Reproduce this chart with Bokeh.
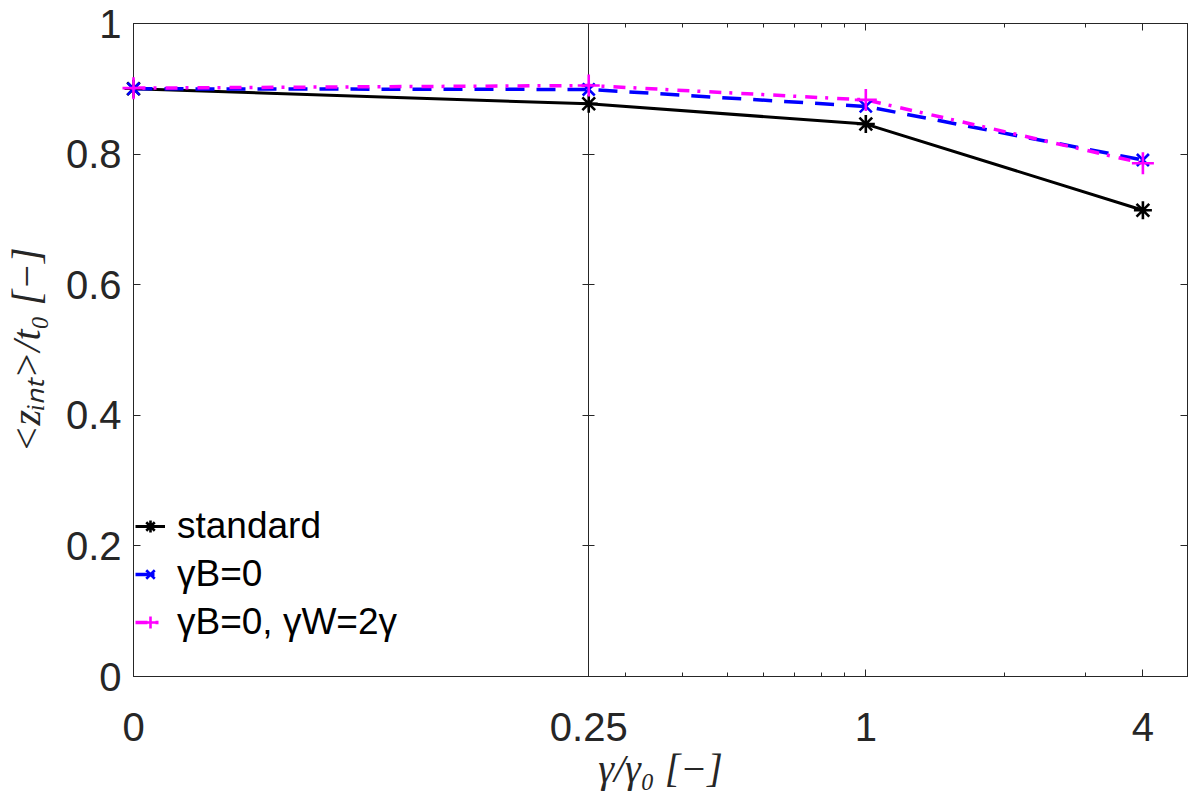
import math
from bokeh.plotting import figure
from bokeh.models import (ColumnDataSource, Range1d, FixedTicker, LinearAxis, Legend, LegendItem,
                          CustomJSTransform, CustomJSTickFormatter)
from bokeh.transform import transform
from bokeh.embed import file_html
from bokeh.resources import INLINE

# ---------------- data ----------------
x_values = [0, 0.25, 1, 4]
standard = [0.900, 0.877, 0.846, 0.714]
gamma_b0 = [0.900, 0.899, 0.873, 0.791]
gamma_b0_w2 = [0.901, 0.905, 0.883, 0.786]
series_labels = ["standard", "γB=0", "γB=0, γW=2γ"]

x_tick_values = [0, 0.25, 1, 4]
x_tick_labels = ["0", "0.25", "1", "4"]
x_minor_values = [0.3, 0.4, 0.5, 0.6, 0.7, 0.8, 0.9, 2, 3]
y_tick_values = [0, 0.2, 0.4, 0.6, 0.8, 1]
y_tick_labels = ["0", "0.2", "0.4", "0.6", "0.8", "1"]

x_label = "γ/γ₀ [−]"
y_label = "<zᵢₙₜ>/t₀ [−]"

# ---------------- axis mapping: linear [0, 0.25], log [0.25, 5] ----------------
X_BREAK = 0.25
X_MAX = 5.0
LIN_W = 455.0     # axis units for the linear part
DEC_W = 460.0     # axis units per decade in the log part


def xpos(v):
    return v / X_BREAK * LIN_W if v <= X_BREAK else LIN_W + DEC_W * math.log10(v / X_BREAK)


xt = CustomJSTransform(args=dict(brk=X_BREAK, lin=LIN_W, dec=DEC_W), v_func="""
const out = new Float64Array(xs.length);
for (let i = 0; i < xs.length; i++) {
  const v = xs[i];
  out[i] = v <= brk ? v / brk * lin : lin + dec * Math.log10(v / brk);
}
return out;
""")

AX = "#262626"
TICK_FONT = "Liberation Sans"

p = figure(frame_width=1054, frame_height=653,
           x_range=Range1d(0, xpos(X_MAX)), y_range=Range1d(0, 1),
           output_backend="svg", toolbar_location=None,
           min_border_left=133, min_border_top=23, min_border_right=6, min_border_bottom=118)
p.grid.visible = False
p.outline_line_color = AX
p.outline_line_width = 1
p.background_fill_color = "white"
p.border_fill_color = "white"

xticker = FixedTicker(ticks=[xpos(v) for v in x_tick_values],
                      minor_ticks=[xpos(v) for v in x_minor_values])
yticker = FixedTicker(ticks=y_tick_values, minor_ticks=[])
empty = CustomJSTickFormatter(code="return ''")

# bottom axis
xax = p.xaxis[0]
xax.ticker = xticker
xax.major_label_overrides = {xpos(v): lab for v, lab in zip(x_tick_values, x_tick_labels)}
xax.major_tick_in = 7
xax.major_tick_out = 0
xax.minor_tick_in = 4
xax.minor_tick_out = 0
xax.major_label_standoff = 36
xax.major_label_text_font = TICK_FONT
xax.major_label_text_font_size = "40px"
xax.major_label_text_color = AX
xax.axis_label = x_label
xax.axis_label_text_font = "Liberation Serif"
xax.axis_label_text_font_style = "italic"
xax.axis_label_text_font_size = "40px"
xax.axis_label_text_color = AX
xax.axis_label_standoff = 2

# left axis
yax = p.yaxis[0]
yax.ticker = yticker
yax.major_label_overrides = {v: lab for v, lab in zip(y_tick_values, y_tick_labels)}
yax.major_tick_in = 7
yax.major_tick_out = 0
yax.minor_tick_line_color = None
yax.major_label_standoff = 12
yax.major_label_text_font = TICK_FONT
yax.major_label_text_font_size = "40px"
yax.major_label_text_color = AX
yax.axis_label = y_label
yax.axis_label_text_font = "Liberation Serif"
yax.axis_label_text_font_style = "italic"
yax.axis_label_text_font_size = "40px"
yax.axis_label_text_color = AX
yax.axis_label_standoff = 14

# top, right and the 0.25 divider axes (ticks only)
top = LinearAxis(ticker=xticker, formatter=empty, major_tick_in=7, major_tick_out=0,
                 minor_tick_in=4, minor_tick_out=0, major_label_standoff=0)
p.add_layout(top, "above")
right = LinearAxis(ticker=yticker, formatter=empty, major_tick_in=7, major_tick_out=0,
                   minor_tick_line_color=None, major_label_standoff=0)
p.add_layout(right, "right")
mid = LinearAxis(ticker=yticker, formatter=empty, major_tick_in=6, major_tick_out=6,
                 minor_tick_line_color=None, major_label_standoff=0,
                 fixed_location=xpos(X_BREAK))
p.add_layout(mid, "right")

for ax in (xax, yax, top, right, mid):
    ax.axis_line_color = AX
    ax.major_tick_line_color = AX
    if ax not in (yax, right, mid):
        ax.minor_tick_line_color = AX

# ---------------- series ----------------
s1 = ColumnDataSource(dict(x=x_values, y=standard))
s2 = ColumnDataSource(dict(x=x_values, y=gamma_b0))
s3 = ColumnDataSource(dict(x=x_values, y=gamma_b0_w2))

X = transform("x", xt)
l1 = p.line(x=X, y="y", source=s1, line_color="black", line_width=3)
m1 = p.scatter(x=X, y="y", source=s1, marker="asterisk", size=18, line_color="black",
               line_width=2.6, level="overlay")
l2 = p.line(x=X, y="y", source=s2, line_color="#0000ff", line_width=3.5, line_dash="19 12")
m2 = p.scatter(x=X, y="y", source=s2, marker="x", size=17, line_color="#0000ff",
               line_width=2.6, level="overlay")
l3 = p.line(x=X, y="y", source=s3, line_color="#ff00ff", line_width=3.5, line_dash="12 8 3 9")
m3 = p.scatter(x=X, y="y", source=s3, marker="cross", size=22, line_color="#ff00ff",
               line_width=2.6, level="overlay")

legend = Legend(items=[LegendItem(label=series_labels[0], renderers=[l1, m1]),
                       LegendItem(label=series_labels[1], renderers=[l2, m2]),
                       LegendItem(label=series_labels[2], renderers=[l3, m3])],
                location=(2, 33), orientation="vertical",
                label_text_font=TICK_FONT, label_text_font_size="37px", label_text_color="black",
                glyph_width=30, glyph_height=30, label_standoff=12, spacing=6,
                padding=0, margin=0, border_line_color=None, background_fill_alpha=0)
p.add_layout(legend)

open("out.html", "w").write(file_html(p, INLINE))
